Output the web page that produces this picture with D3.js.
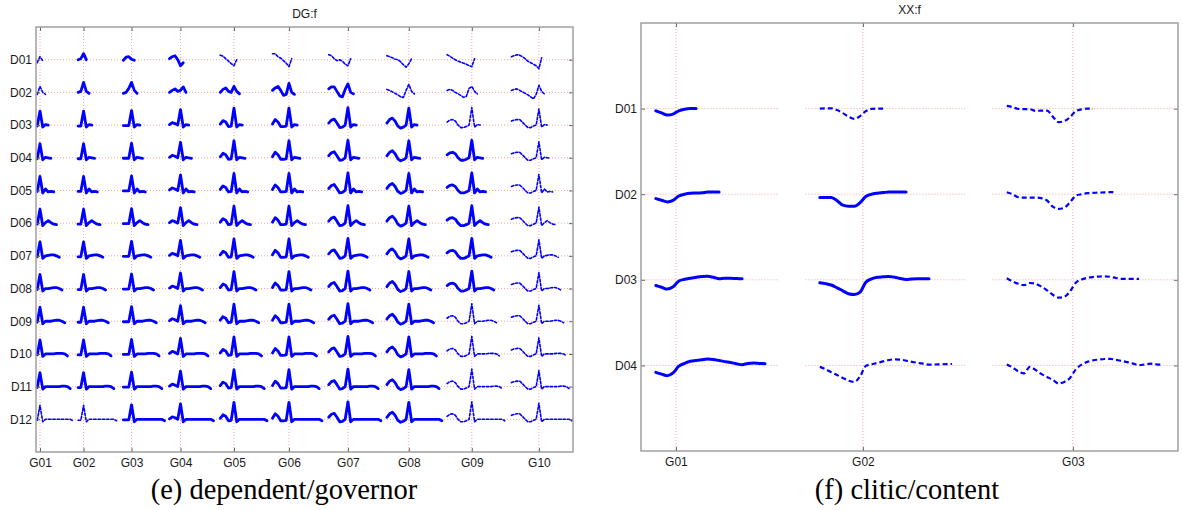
<!DOCTYPE html>
<html><head><meta charset="utf-8">
<script src="https://cdn.jsdelivr.net/npm/d3@7"></script>
<style>body{margin:0;background:#fff}svg{display:block}</style>
</head><body>
<svg id="c" width="1183" height="510"></svg>
<script>
// ---------------- DATA ----------------
// Left panel (e) DG:f
const rowsL = ["D01","D02","D03","D04","D05","D06","D07","D08","D09","D10","D11","D12"];
const colsL = ["G01","G02","G03","G04","G05","G06","G07","G08","G09","G10"];
const gTicksL = [1.45, 17.3, 34.75, 52.55, 72, 92, 113.45, 135.6, 158.5, 182.9]; // in word units
// pre-peak part (governor side) for rows D03..D12, one per column, ends at peak
const preL = [
  [-1, 14],
  [-1, -1, 14],
  [-0.5, -0.5, -0.5, 14.5],
  [0.5, 2.5, 1.5, 0, 15.5],
  [1, 4.5, 3, -1.5, -1, 17],
  [1, 5.5, 3, -1.5, -1.5, -1, 17],
  [2, 5, 6, 2, -2.5, -2, 0, 17.5],
  [2, 5.5, 7, 4, -1, -3, -2, 0, 17],
  [3, 5, 5.5, 4, 0, -2.5, -2.5, -1.5, 0, 17.5],
  [4, 5, 5.5, 5.5, 3, 0, -2.5, -2.5, -1, 0, 16]
];
// post-peak part (dependent side), one per row
const postL = [
  [-1],
  [-2, 0],
  [-2, 0.5, 0],
  [-2, 0.5, 0, -0.5],
  [-2.5, 1.5, -1.5, -1, -1.5],
  [-2.5, 0.5, 2.5, 0.5, -1, -1.5],
  [-2.5, 0, 0.5, 1, 1, 0, -1.5],
  [-2.5, 0, 0, 0.5, 1, 1, 0, -1.5],
  [-2.5, 0, 0, 0, 0.5, 1, 1, 0, -1.5],
  [-2.5, 0, 0, 0, 0, 0.5, 0.5, 0.5, 0, -2],
  [-2.5, 0, 0, 0, 0, 0, 0, 0.5, 0.5, 0, -2],
  [-2.5, 0, 0, 0, 0, 0, 0, 0, 0, 0, 0, -1.5]
];
// rows D01 and D02: full curves per column
const rowD01 = [
  [-3, 3, -1],
  [0, 1, 6, 0],
  [-0.5, 2.5, 3, 0.5, -0.5],
  [1, 3, 4, 0, -6, -3],
  [4.5, 3.5, 1, -1.5, -4, -6, 0],
  [6, 6, 3, 1.5, -1, -3.5, -7, 1],
  [5, 4, 1, -1, 0, -1.5, -4.5, -6, 1],
  [4, 3, 2, 0.5, 0, -2, -5, -7.5, -4, 1],
  [5, 3.5, 1.5, 0, -1.5, -2.5, -3.5, -4.5, -6, -7, 1],
  [3, 4, 5, 4.5, 3, 1, -1.5, -3, -4.5, -6, -9, 2]
];
const rowD02 = [
  [-2, 6, 0, -2],
  [0, 1, 10, 1, -1],
  [-1, 0, 4, 10, 2, -1],
  [0, 2, 3.5, 1, 2, 5.5, 0],
  [0, 3, 4.5, 1, 0, 6, 1, -1.5],
  [2, 4.5, 6, 2, -3, -2, 9, 0, -2],
  [3.5, 5.5, 5.5, 1, -3.5, -4.5, 3, 8.5, 0, -1.5],
  [3, 2, 0.5, -1, -2.5, -4.5, -5, 2, 8, 1, -1.5],
  [2, 3, 2, 0, -1.5, -3, -5, -4, 4, 6, 1, -1.5],
  [2, 3, 3.5, 2, 0.5, -1, -2.5, -4.5, -6.5, -2, 7, 1, -1.5]
];
// dashed (sparse) cells, one string per row, one char per column
const dashedL = [
  "1000111111","1000000111","0000000011","0000000001","0000000001","0000000001",
  "0000000001","0000000001","0000000011","0000000011","0000000011","1100000011"
];

// Right panel (f) XX:f
const rowsR = ["D01","D02","D03","D04"];
const colsR = ["G01","G02","G03"];
const gTicksR = [1.52, 9.65, 18.78];
const sigR_G01 = [
  [-2.3, -4.3, -6.5, -5.5, -2.2, -0.6, 0, 0],
  [-4.4, -6.0, -7.7, -6.1, -1.8, 0, 1, 1.2, 1.5, 2.1, 2.3, 2.3],
  [-5.7, -7.5, -9.3, -7, -1.2, 0.5, 1.6, 2.6, 3.4, 3.5, 2.5, 1.1, 1.5, 1.5, 1.2, 1],
  [-7, -8.7, -10.3, -7.5, -0.8, 2, 4.1, 4.8, 5.6, 6.4, 6.0, 4.9, 3.8, 2.8, 1.7, 0.7, 1.9, 2.3, 2.0, 1.7]
];
const sigR_G02 = [
  [0, 0.3, 0.3, -1.5, -4.5, -8, -10.3, -7.5, -2.5, -0.3, 0, 0],
  [-3.4, -3.2, -3.4, -6.5, -11, -12, -12, -8.5, -2.3, 0, 1, 1.6, 2.2, 2.3, 2.3, 2.3],
  [-3, -3.8, -5.2, -8, -11, -14, -14.8, -12.3, -2.5, 1, 2.6, 3, 3.3, 2.6, 1.3, 0.4, 0.9, 1, 1, 1],
  [-1.5, -3.8, -6.8, -9.6, -12.5, -15.3, -16.5, -11, -0.5, 1.2, 2.5, 4, 5.4, 6.1, 5.8, 4.7, 3.6, 2.6, 1.7, 0.8, 0.9, 1.1, 1.3, 1.4]
];
const sigR_G03 = [
  [2.7, 1.5, -0.3, -0.6, -0.6, -2.3, -2, -2, -8, -13.5, -12.5, -8.5, -2.5, -0.8, 0, 0],
  [2, 0, -3, -3.4, -3.4, -3.4, -4, -6.3, -12.5, -14.7, -13.5, -8, -1.5, 0, 1, 1.3, 1.6, 1.8, 2, 2.3],
  [1.5, -1.5, -4, -5.3, -3.2, -4, -6.8, -10.5, -15, -17.8, -17, -11.5, -3, 0.3, 2, 2.8, 3.2, 3.5, 3, 1.8, 1, 1, 1, 1],
  [1, -2, -6, -8, -1.5, -4.5, -8.5, -11.5, -14.5, -18, -16.5, -12.5, -4, 0.7, 3.5, 5.1, 5.8, 6.4, 6.6, 5.5, 4.4, 3.3, 1.8, 0.2, 0.9, 1.7, 1.1, 0.7]
];
const dashedR = ["011", "001", "001", "011"];

// ---------------- DRAW ----------------
const BLUE = "#0000ff";
const GRID = "#f4a3a3";
const svg = d3.select("#c");
const FONT = "'Liberation Sans', Arial, Helvetica, sans-serif";

function frame(g, x, y, xt, xl, yt, yl, title, titleY) {
  const [x0, x1] = x.range(), [y0, y1] = y.range();
  g.append("g").attr("transform", `translate(0,${y1})`)
    .call(d3.axisBottom(x).tickValues(xt).tickFormat((d, i) => xl[i]).tickSize(-4).tickPadding(6));
  g.append("g").attr("transform", `translate(0,${y0})`)
    .call(d3.axisTop(x).tickValues(xt).tickFormat("").tickSize(-4));
  g.append("g").attr("transform", `translate(${x0},0)`)
    .call(d3.axisLeft(y).tickValues(yt).tickFormat((d, i) => yl[i]).tickSize(-4).tickPadding(4));
  g.append("g").attr("transform", `translate(${x1},0)`)
    .call(d3.axisRight(y).tickValues(yt).tickFormat("").tickSize(-4));
  g.selectAll(".domain").remove();
  g.selectAll(".tick line").attr("stroke", "#666");
  g.selectAll(".tick text").attr("font-family", FONT).attr("font-size", 12).attr("fill", "#1a1a1a");
  g.append("rect").attr("x", x0).attr("y", y0).attr("width", x1 - x0).attr("height", y1 - y0)
    .attr("fill", "none").attr("stroke", "#999").attr("stroke-width", 1.4);
  g.append("text").attr("x", (x0 + x1) / 2).attr("y", titleY).attr("text-anchor", "middle")
    .attr("font-family", FONT).attr("font-size", 12).attr("fill", "#1a1a1a").text(title);
}

// ----- Left panel -----
const xL = d3.scaleLinear().domain([0, 195.3]).range([36, 573]);
const yL = d3.scaleLinear().domain([0, 13]).range([27, 452]);
const rowPxL = yL(1) - yL(0);
const gL = svg.append("g");
const gridL = gL.append("g");
gTicksL.forEach(t => gridL.append("line").attr("x1", xL(t)).attr("x2", xL(t))
  .attr("y1", yL(0)).attr("y2", yL(13)));
rowsL.forEach((r, j) => gridL.append("line").attr("x1", xL(0)).attr("x2", xL(195.3))
  .attr("y1", yL(j + 1)).attr("y2", yL(j + 1)));
gridL.selectAll("line").attr("stroke", GRID).attr("stroke-width", 1).attr("stroke-dasharray", "1,2");

const lineL = d3.line().x(d => xL(d[0])).y(d => yL(d[1]));
const curvesL = gL.append("g");
rowsL.forEach((r, j) => {
  colsL.forEach((c, i) => {
    const g = i + 1, T = gTicksL[i];
    let vals;
    if (j === 0) vals = rowD01[i];
    else if (j === 1) vals = rowD02[i];
    else vals = preL[i].concat(postL[j]);
    const pts = vals.map((v, k) => [T - g + k, (j + 1) - v / rowPxL]);
    const dashed = dashedL[j][i] === "1";
    curvesL.append("path").attr("d", lineL(pts)).attr("fill", "none")
      .attr("stroke", BLUE).attr("stroke-width", dashed ? 1.6 : 2.8)
      .attr("stroke-linejoin", "round").attr("stroke-linecap", "round")
      .attr("stroke-dasharray", dashed ? "2.5,1.8" : null);
  });
});
frame(gL, xL, yL, gTicksL, colsL, d3.range(1, 13), rowsL, "DG:f", 18);

// ----- Right panel -----
const xR = d3.scaleLinear().domain([0, 23.35]).range([641, 1178]);
const yR = d3.scaleLinear().domain([0, 5]).range([23, 451]);
const rowPxR = yR(1) - yR(0);
const gR = svg.append("g");
const gridR = gR.append("g");
gTicksR.forEach(t => gridR.append("line").attr("x1", xR(t)).attr("x2", xR(t))
  .attr("y1", yR(0)).attr("y2", yR(5)));
rowsR.forEach((r, j) => gTicksR.forEach((t, i) => {
  const a = Math.max(0, t - (i + 1.5)), b = Math.min(23.35, t + 4.45);
  gridR.append("line").attr("x1", xR(a)).attr("x2", xR(b)).attr("y1", yR(j + 1)).attr("y2", yR(j + 1));
}));
gridR.selectAll("line").attr("stroke", GRID).attr("stroke-width", 1).attr("stroke-dasharray", "1,2");

const sigR = [sigR_G01, sigR_G02, sigR_G03];
const lineR = d3.line().x(d => xR(d[0])).y(d => yR(d[1])).curve(d3.curveMonotoneX);
const curvesR = gR.append("g");
rowsR.forEach((r, j) => colsR.forEach((c, i) => {
  const g = i + 1, T = gTicksR[i];
  const pts = sigR[i][j].map((v, k) => [T - g + 0.125 + 0.25 * k, (j + 1) - v / rowPxR]);
  const dashed = dashedR[j][i] === "1";
  curvesR.append("path").attr("d", lineR(pts)).attr("fill", "none")
    .attr("stroke", BLUE).attr("stroke-width", dashed ? 2.2 : 3)
    .attr("stroke-linejoin", "round").attr("stroke-linecap", dashed ? "butt" : "round")
    .attr("stroke-dasharray", dashed ? "5,3" : null);
}));
frame(gR, xR, yR, gTicksR, colsR, d3.range(1, 5), rowsR, "XX:f", 14);

// captions
const SERIF = "'Liberation Serif', 'Times New Roman', Times, serif";
svg.append("text").attr("x", 284).attr("y", 499).attr("text-anchor", "middle")
  .attr("font-family", SERIF).attr("font-size", 28.5).attr("fill", "#000").text("(e) dependent/governor");
svg.append("text").attr("x", 907).attr("y", 499).attr("text-anchor", "middle")
  .attr("font-family", SERIF).attr("font-size", 28.5).attr("fill", "#000").text("(f) clitic/content");
</script>
</body></html>
